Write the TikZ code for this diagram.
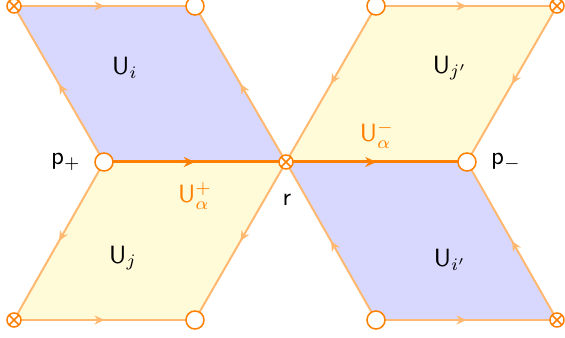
\documentclass[tikz,border=0pt]{standalone}
\usetikzlibrary{arrows.meta,decorations.markings}
\definecolor{edgeor}{HTML}{FFB870}
\definecolor{darkor}{HTML}{FF8000}
\definecolor{bluef}{HTML}{D8D8FF}
\definecolor{yelf}{HTML}{FFFAD8}
\tikzset{
  edge/.style={draw=edgeor, line width=0.8pt, postaction={decorate},
    decoration={markings, mark=at position 0.5 with {\arrow{Stealth[length=4pt,width=3.6pt]}}}},
  thickedge/.style={draw=darkor, line width=1.2pt, postaction={decorate},
    decoration={markings, mark=at position 0.5 with {\arrow{Stealth[length=4.5pt,width=4pt]}}}},
  ocirc/.style={circle, draw=darkor, fill=white, line width=0.6pt, minimum size=7.2pt, inner sep=0pt},
  xcirc/.style={circle, draw=darkor, fill=white, line width=0.6pt, minimum size=5.6pt, inner sep=0pt,
    path picture={\draw[darkor, line width=0.6pt] (path picture bounding box.north west) -- (path picture bounding box.south east)
      (path picture bounding box.north east) -- (path picture bounding box.south west);}},
  lab/.style={font=\sffamily, text=black, inner sep=0pt},
  olab/.style={font=\sffamily, text=darkor, inner sep=0pt}
}
\begin{document}
\begin{tikzpicture}[x=0.4pt,y=-0.4pt]
\useasboundingbox (0,0) rectangle (565,338);
\coordinate (A) at (14,6);
\coordinate (B) at (195,6);
\coordinate (P) at (104,162);
\coordinate (R) at (286,162);
\coordinate (C) at (14,320);
\coordinate (D) at (195,320);
\coordinate (E) at (376,6);
\coordinate (F) at (557,6);
\coordinate (Q) at (467,162);
\coordinate (G) at (376,320);
\coordinate (H) at (557,320);
% fills
\fill[bluef] (A) -- (B) -- (R) -- (P) -- cycle;
\fill[yelf] (P) -- (R) -- (D) -- (C) -- cycle;
\fill[yelf] (E) -- (F) -- (Q) -- (R) -- cycle;
\fill[bluef] (R) -- (Q) -- (H) -- (G) -- cycle;
% edges
\draw[edge] (A) -- (B);
\draw[edge] (P) -- (A);
\draw[edge] (R) -- (B);
\draw[edge] (P) -- (C);
\draw[edge] (R) -- (D);
\draw[edge] (C) -- (D);
\draw[edge] (E) -- (F);
\draw[edge] (E) -- (R);
\draw[edge] (F) -- (Q);
\draw[edge] (G) -- (R);
\draw[edge] (H) -- (Q);
\draw[edge] (G) -- (H);
\draw[thickedge] (P) -- (R);
\draw[thickedge] (R) -- (Q);
% markers
\node[xcirc] (mA) at (A) {};
\node[xcirc] (mC) at (C) {};
\node[xcirc] (mR) at (R) {};
\node[xcirc] (mF) at (F) {};
\node[xcirc] (mH) at (H) {};
\node[ocirc] (mB) at (B) {};
\node[ocirc] (mP) at (P) {};
\node[ocirc] (mD) at (D) {};
\node[ocirc] (mE) at (E) {};
\node[ocirc] (mQ) at (Q) {};
\node[ocirc] (mG) at (G) {};
% labels
\node[lab] (ui) at (125,68) {U$_i$};
\node[lab] (uj) at (123,258) {U$_j$};
\node[lab] (ujp) at (450,68) {U$_{j'}$};
\node[lab] (uip) at (450,260) {U$_{i'}$};
\node[lab] (pp) at (66,162) {p$_+$};
\node[lab] (pm) at (506,162) {p$_-$};
\node[lab] (r) at (287,200) {r};
\node[olab] (uap) at (195,196) {U$_\alpha^+$};
\node[olab] (uam) at (377,135) {U$_\alpha^-$};
\end{tikzpicture}
\end{document}
